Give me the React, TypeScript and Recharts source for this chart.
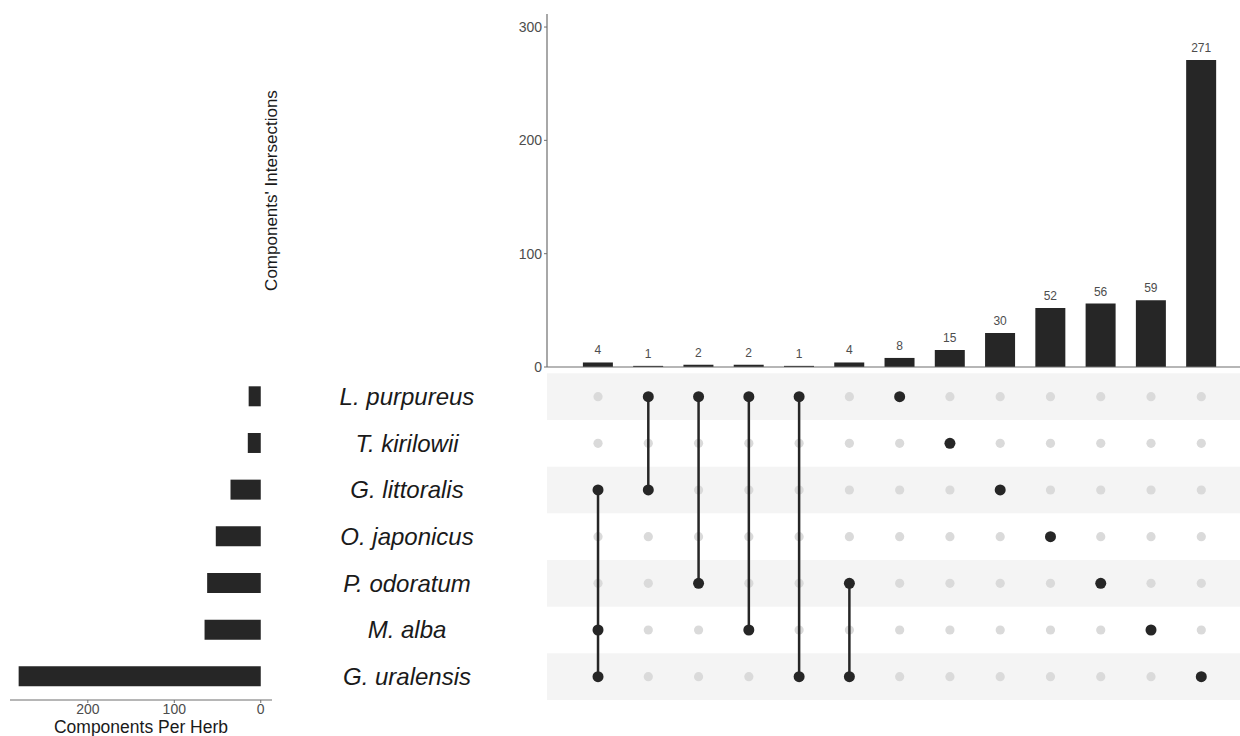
import {
  BarChart,
  Bar,
  XAxis,
  YAxis,
  LabelList,
  ScatterChart,
  Scatter,
  ReferenceArea,
} from "recharts";

// sets (rows of the matrix), top to bottom
const herbs = [
  "L. purpureus",
  "T. kirilowii",
  "G. littoralis",
  "O. japonicus",
  "P. odoratum",
  "M. alba",
  "G. uralensis",
];
const herbTotals = [14, 15, 35, 52, 62, 65, 280];

// intersections (columns), left to right
const intersectionSizes = [4, 1, 2, 2, 1, 4, 8, 15, 30, 52, 56, 59, 271];
// row indexes (into herbs) that belong to each intersection
const intersectionMembers = [
  [2, 5, 6],
  [0, 2],
  [0, 4],
  [0, 5],
  [0, 6],
  [4, 6],
  [0],
  [1],
  [2],
  [3],
  [4],
  [5],
  [6],
];

const sizeTicks = [0, 100, 200, 300];
const herbTicks = [0, 100, 200];

const FONT = '"Liberation Sans", Arial, sans-serif';
const DARK = "#262626";
const AXIS = "#6e6e6e";
const TEXT = "#4d4d4d";

// shared x domain so the bars and the matrix line up
const COL_DOMAIN: [number, number] = [-1.015, 12.77];

const barData = intersectionSizes.map((size, i) => ({ col: i, size }));
const herbData = herbs.map((herb, i) => ({ herb, total: herbTotals[i] }));

const emptyCells = intersectionMembers.flatMap((rows, col) =>
  herbs.map((_, row) => ({ col, row })).filter(c => !rows.includes(c.row))
);
const columnCells = intersectionMembers.map((rows, col) =>
  [...rows].sort((a, b) => a - b).map(row => ({ col, row }))
);

const HerbTick = (props: any) => (
  <text
    x={407}
    y={props.y}
    textAnchor="middle"
    dominantBaseline="central"
    fontStyle="italic"
    fontSize={24}
    fontFamily={FONT}
    fill="#1a1a1a"
  >
    {herbs[props.payload.value]}
  </text>
);

const IntersectLabel = (props: any) => {
  const vb = props.viewBox;
  const cx = vb.x + 24;
  const cy = vb.y + vb.height / 2;
  return (
    <text
      x={cx}
      y={cy}
      transform={`rotate(-90, ${cx}, ${cy})`}
      textAnchor="middle"
      dominantBaseline="central"
      fontSize={17}
      fontFamily={FONT}
      fill="#1a1a1a"
    >
      Components' Intersections
    </text>
  );
};

export default function App() {
  return (
    <div
      style={{
        position: "absolute",
        left: 0,
        top: 0,
        width: 1240,
        height: 736,
        background: "#fff",
        fontFamily: FONT,
        overflow: "hidden",
      }}
    >
      {/* matrix */}
      <div style={{ position: "absolute", left: 0, top: 0 }}>
        <ScatterChart width={1240} height={736} margin={{ top: 373.3, right: 0, bottom: 36, left: 300 }}>
          <XAxis type="number" dataKey="col" domain={COL_DOMAIN} hide />
          <YAxis
            type="number"
            dataKey="row"
            domain={[-0.5, 6.5]}
            ticks={[0, 1, 2, 3, 4, 5, 6]}
            reversed
            width={247}
            axisLine={false}
            tickLine={false}
            tick={<HerbTick />}
          />
          {[0, 2, 4, 6].map(r => (
            <ReferenceArea key={r} y1={r - 0.5} y2={r + 0.5} fill="#f4f4f4" fillOpacity={1} stroke="none" />
          ))}
          <Scatter
            data={emptyCells}
            isAnimationActive={false}
            shape={(p: any) => <circle cx={p.cx} cy={p.cy} r={4.6} fill="#dadada" />}
          />
          {columnCells.map((cells, i) => (
            <Scatter
              key={i}
              data={cells}
              isAnimationActive={false}
              line={cells.length > 1 ? { stroke: DARK, strokeWidth: 2.5 } : false}
              shape={(p: any) => <circle cx={p.cx} cy={p.cy} r={5.5} fill={DARK} />}
            />
          ))}
        </ScatterChart>
      </div>

      {/* intersection sizes */}
      <div style={{ position: "absolute", left: 0, top: 0 }}>
        <BarChart width={1240} height={397} data={barData} margin={{ top: 14, right: 0, bottom: 0, left: 247 }}>
          <XAxis
            type="number"
            dataKey="col"
            domain={COL_DOMAIN}
            height={30}
            tick={false}
            tickLine={false}
            axisLine={{ stroke: AXIS, strokeWidth: 1.2 }}
          />
          <YAxis
            type="number"
            domain={[0, 311.5]}
            ticks={sizeTicks}
            width={300}
            tickSize={3}
            tickMargin={2}
            axisLine={{ stroke: AXIS, strokeWidth: 1.2 }}
            tickLine={{ stroke: AXIS }}
            tick={{ fill: TEXT, fontSize: 14, fontFamily: FONT }}
            label={<IntersectLabel />}
          />
          <Bar dataKey="size" fill={DARK} barSize={30} isAnimationActive={false}>
            <LabelList dataKey="size" position="top" offset={8} fill={TEXT} fontSize={12} fontFamily={FONT} />
          </Bar>
        </BarChart>
      </div>

      {/* set sizes */}
      <div style={{ position: "absolute", left: 0, top: 0 }}>
        <BarChart
          layout="vertical"
          width={300}
          height={736}
          data={herbData}
          margin={{ top: 373.3, right: 28, bottom: 0, left: 10 }}
        >
          <YAxis type="category" dataKey="herb" hide />
          <XAxis
            type="number"
            domain={[-13, 290]}
            ticks={herbTicks}
            reversed
            height={36}
            tickSize={3}
            tickMargin={1}
            axisLine={{ stroke: AXIS, strokeWidth: 1.2 }}
            tickLine={{ stroke: AXIS }}
            tick={{ fill: TEXT, fontSize: 14, fontFamily: FONT }}
            label={{
              value: "Components Per Herb",
              position: "insideBottom",
              offset: 3,
              fill: "#1a1a1a",
              fontSize: 17.5,
              fontFamily: FONT,
            }}
          />
          <Bar dataKey="total" fill={DARK} barSize={20} isAnimationActive={false} />
        </BarChart>
      </div>
    </div>
  );
}
